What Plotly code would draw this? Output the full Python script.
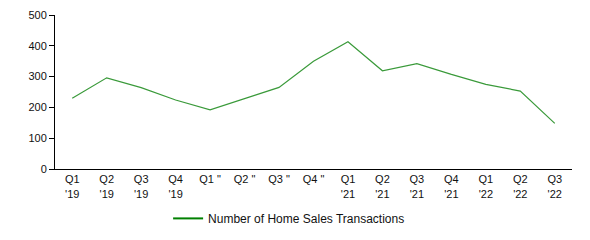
import plotly.graph_objects as go

quarters = ["Q1<br>'19", "Q2<br>'19", "Q3<br>'19", "Q4<br>'19",
            "Q1 \"", "Q2 \"", "Q3 \"", "Q4 \"",
            "Q1<br>'21", "Q2<br>'21", "Q3<br>'21", "Q4<br>'21",
            "Q1<br>'22", "Q2<br>'22", "Q3<br>'22"]
transactions = [230, 296, 264, 224, 192, 229, 265, 350, 413, 319, 342, 307, 275, 253, 148]
series_name = "Number of Home Sales Transactions"

fig = go.Figure()
fig.add_trace(go.Scatter(
    x=list(range(len(quarters))), y=transactions, mode="lines",
    name=series_name, showlegend=False,
    line=dict(color="#3a9a3a", width=1.2),
))
fig.add_trace(go.Scatter(
    x=[None], y=[None], mode="lines", name=series_name,
    line=dict(color="#008000", width=2),
))
fig.update_layout(
    width=590, height=240,
    margin=dict(l=55, r=18, t=15, b=71),
    paper_bgcolor="white", plot_bgcolor="white",
    font=dict(family="Liberation Sans, Arial, sans-serif", size=11, color="#111"),
    showlegend=True,
    legend=dict(orientation="h", x=0.49, xanchor="center", xref="container",
                yref="container", y=0.09, yanchor="middle",
                font=dict(size=12), itemwidth=30),
    xaxis=dict(tickmode="array", tickvals=list(range(len(quarters))), ticktext=quarters,
               range=[-0.5, len(quarters) - 0.5], showgrid=False, zeroline=False,
               showline=True, linecolor="black", linewidth=1, ticks="", tickangle=0,
               automargin=False, fixedrange=True),
    yaxis=dict(range=[0, 500], dtick=100, showgrid=False, zeroline=False,
               showline=True, linecolor="black", linewidth=1, ticks="outside",
               ticklen=5, tickcolor="black", automargin=False, fixedrange=True),
)
fig.write_html("out.html")
